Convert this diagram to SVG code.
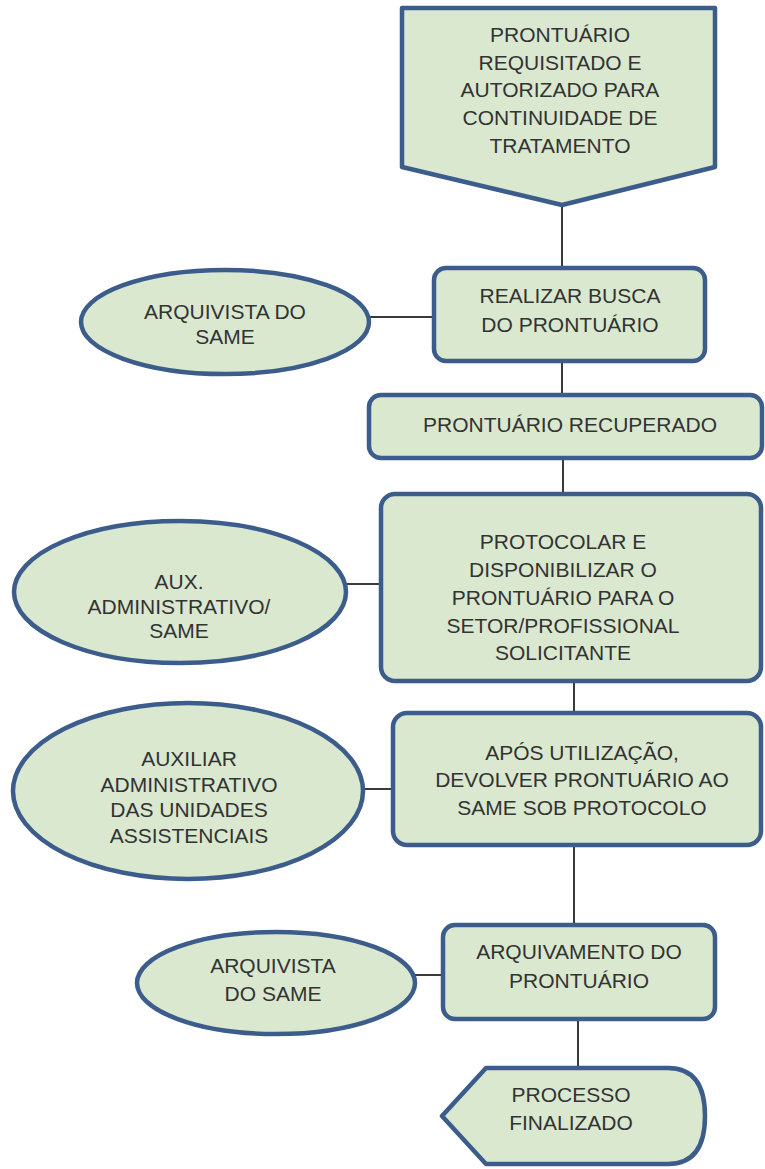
<svg xmlns="http://www.w3.org/2000/svg" width="765" height="1169" viewBox="0 0 765 1169">
  <style>
    .shape { fill: #d9e8cf; stroke: #3c5d8c; stroke-width: 4.5; stroke-linejoin: round; }
    .link { stroke: #3a3a3a; stroke-width: 2; fill: none; }
    .label { font-family: "Liberation Sans", Arial, sans-serif; font-size: 21px; fill: #333333; text-anchor: middle; }
  </style>
  <rect x="0" y="0" width="765" height="1169" fill="#ffffff"/>

  <!-- connectors -->
  <g id="connectors">
    <line class="link" x1="562" y1="205" x2="562" y2="268"/>
    <line class="link" x1="369" y1="317" x2="434" y2="317"/>
    <line class="link" x1="562" y1="361" x2="562" y2="395"/>
    <line class="link" x1="563" y1="458" x2="563" y2="494"/>
    <line class="link" x1="346" y1="584" x2="381" y2="584"/>
    <line class="link" x1="574" y1="681" x2="574" y2="713"/>
    <line class="link" x1="363" y1="789" x2="393" y2="789"/>
    <line class="link" x1="574" y1="845" x2="574" y2="925"/>
    <line class="link" x1="415" y1="975" x2="443" y2="975"/>
    <line class="link" x1="578" y1="1019" x2="578" y2="1068"/>
  </g>

  <!-- start: off-page connector -->
  <g id="inicio">
    <polygon class="shape" points="402,8 715,8 715,167 562,205 402,167"/>
    <text class="label" x="560" y="42">PRONTUÁRIO</text>
    <text class="label" x="560" y="70">REQUISITADO E</text>
    <text class="label" x="560" y="97">AUTORIZADO PARA</text>
    <text class="label" x="560" y="125">CONTINUIDADE DE</text>
    <text class="label" x="560" y="153">TRATAMENTO</text>
  </g>

  <g id="arquivista1">
    <ellipse class="shape" cx="225" cy="322" rx="144" ry="52"/>
    <text class="label" x="225" y="319">ARQUIVISTA DO</text>
    <text class="label" x="225" y="344">SAME</text>
  </g>

  <g id="busca">
    <rect class="shape" x="434" y="268" width="271" height="93" rx="12"/>
    <text class="label" x="570" y="303">REALIZAR BUSCA</text>
    <text class="label" x="570" y="332">DO PRONTUÁRIO</text>
  </g>

  <g id="recuperado">
    <rect class="shape" x="369" y="395" width="393" height="63" rx="12"/>
    <text class="label" x="570" y="432">PRONTUÁRIO RECUPERADO</text>
  </g>

  <g id="auxiliar1">
    <ellipse class="shape" cx="180" cy="592" rx="166" ry="71"/>
    <text class="label" x="179" y="589">AUX.</text>
    <text class="label" x="179" y="614">ADMINISTRATIVO/</text>
    <text class="label" x="179" y="638">SAME</text>
  </g>

  <g id="protocolar">
    <rect class="shape" x="381" y="494" width="380" height="187" rx="14"/>
    <text class="label" x="563" y="549">PROTOCOLAR E</text>
    <text class="label" x="563" y="577">DISPONIBILIZAR O</text>
    <text class="label" x="563" y="605">PRONTUÁRIO PARA O</text>
    <text class="label" x="563" y="633">SETOR/PROFISSIONAL</text>
    <text class="label" x="563" y="660">SOLICITANTE</text>
  </g>

  <g id="auxiliar2">
    <ellipse class="shape" cx="188" cy="791" rx="175" ry="88"/>
    <text class="label" x="189" y="766">AUXILIAR</text>
    <text class="label" x="189" y="792">ADMINISTRATIVO</text>
    <text class="label" x="189" y="817">DAS UNIDADES</text>
    <text class="label" x="189" y="843">ASSISTENCIAIS</text>
  </g>

  <g id="devolver">
    <rect class="shape" x="393" y="713" width="368" height="132" rx="14"/>
    <text class="label" x="582" y="760">APÓS UTILIZAÇÃO,</text>
    <text class="label" x="582" y="787">DEVOLVER PRONTUÁRIO AO</text>
    <text class="label" x="582" y="815">SAME SOB PROTOCOLO</text>
  </g>

  <g id="arquivista2">
    <ellipse class="shape" cx="276" cy="983" rx="139" ry="51"/>
    <text class="label" x="273" y="973">ARQUIVISTA</text>
    <text class="label" x="273" y="1001">DO SAME</text>
  </g>

  <g id="arquivamento">
    <rect class="shape" x="443" y="925" width="272" height="94" rx="12"/>
    <text class="label" x="579" y="959">ARQUIVAMENTO DO</text>
    <text class="label" x="579" y="988">PRONTUÁRIO</text>
  </g>

  <!-- end: display shape -->
  <g id="fim">
    <path class="shape" d="M442,1116 L486,1068 L668,1068 Q705,1068 705,1116 Q705,1164 668,1164 L486,1164 Z"/>
    <text class="label" x="571" y="1102">PROCESSO</text>
    <text class="label" x="571" y="1130">FINALIZADO</text>
  </g>
</svg>
